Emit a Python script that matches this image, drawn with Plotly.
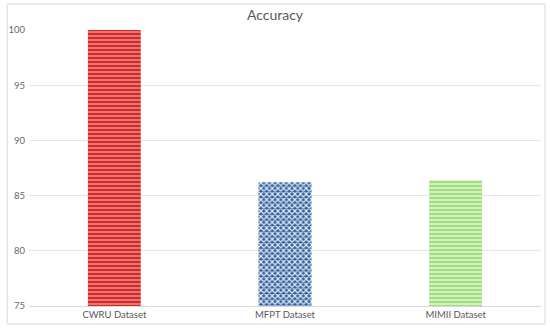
import plotly.graph_objects as go

categories = ["CWRU Dataset", "MFPT Dataset", "MIMII Dataset"]
accuracy = [100.0, 86.2, 86.4]
y_ticks = [75, 80, 85, 90, 95, 100]

bar_bg = ["#d22a2a", "#30609c", "#a0de80"]
bar_fg = ["#ec7c7c", "#e4ecf6", "#d8f4c8"]
bar_shape = ["-", "x", "-"]
bar_size = [4, 4, 4]
bar_solidity = [0.45, 0.5, 0.45]

fig = go.Figure()
for i, cat in enumerate(categories):
    fig.add_trace(go.Bar(
        x=[cat],
        y=[accuracy[i]],
        width=0.31,
        marker=dict(
            color=bar_bg[i],
            line=dict(width=0),
            pattern=dict(shape=bar_shape[i], fgcolor=bar_fg[i], bgcolor=bar_bg[i],
                         size=bar_size[i], solidity=bar_solidity[i], fillmode="replace"),
        ),
        showlegend=False,
    ))

L, R, T, B = 26, 9, 30, 23
W, H = 550, 329
pw, ph = W - L - R, H - T - B

fig.update_layout(
    width=W, height=H,
    margin=dict(l=L, r=R, t=T, b=B, pad=0),
    paper_bgcolor="white",
    plot_bgcolor="white",
    barmode="overlay",
    font=dict(family="Lato, Open Sans, sans-serif", color="#595959", size=10),
    title=dict(text="Accuracy", x=0.5, xanchor="center", y=1 - 15 / H, yanchor="middle",
               font=dict(size=14, color="#595959")),
    xaxis=dict(showgrid=False, showline=True, linecolor="#d9d9d9", linewidth=1,
               ticks="", tickfont=dict(size=9.5, color="#595959")),
    yaxis=dict(range=[75, 100], tickvals=y_ticks, showgrid=True, gridcolor="#e6e6e6",
               gridwidth=1, zeroline=False, showline=False, ticks="outside", ticklen=1,
               tickcolor="white", tickfont=dict(size=9.5, color="#6a6a6a")),
)

fig.add_shape(type="rect", xref="paper", yref="paper",
              x0=(4 - L) / pw, x1=(545 - L) / pw,
              y0=(H - B - 324) / ph, y1=(H - B - 4) / ph,
              line=dict(color="#d9d9d9", width=1), fillcolor="rgba(0,0,0,0)", layer="below")

fig.write_html("out.html", config={"displayModeBar": False},
               post_script="document.body.style.margin='0';document.body.style.overflow='hidden';")
